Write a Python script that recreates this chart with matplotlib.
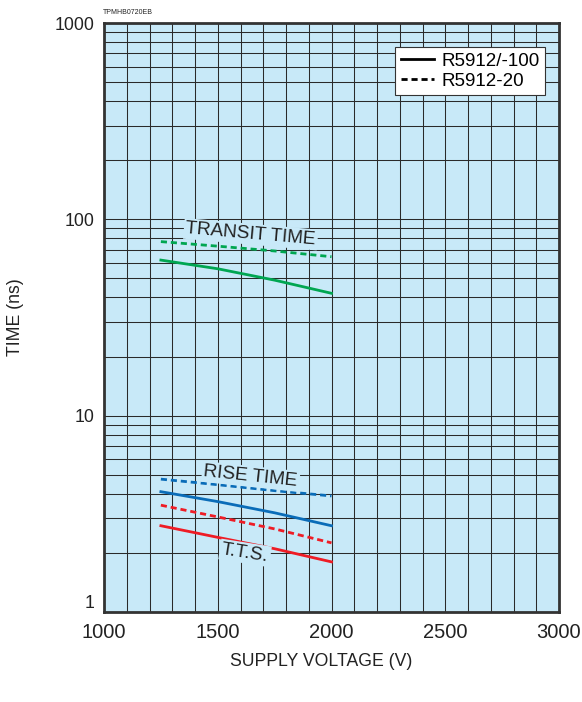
import matplotlib
matplotlib.use("Agg")
import matplotlib.pyplot as plt
from matplotlib.ticker import FixedLocator, LogLocator, NullFormatter

plt.rcParams['font.family'] = ['Liberation Sans', 'DejaVu Sans']

# ── Data ─────────────────────────────────────────────────────────────────────
volts = [1250, 1500, 1750, 2000]
transit_100 = [62, 56, 49, 42]
transit_20 = [77, 73, 69, 64.5]
rise_100 = [4.1, 3.65, 3.2, 2.75]
rise_20 = [4.75, 4.45, 4.15, 3.9]
tts_100 = [2.75, 2.4, 2.1, 1.8]
tts_20 = [3.5, 3.05, 2.65, 2.25]

x_ticks = [1000, 1500, 2000, 2500, 3000]
y_ticks = [1, 10, 100, 1000]

GREEN = "#00a651"
BLUE = "#0a6cb8"
RED = "#ee1c25"
BG = "#c8e9f8"
INK = "#222222"

fig = plt.figure(figsize=(5.82, 7.02), dpi=100)
ax = fig.add_axes([104 / 582, 1 - 612 / 702, 455 / 582, 589 / 702])
ax.set_facecolor(BG)

ax.set_yscale("log")
ax.set_xlim(1000, 3000)
ax.set_ylim(1, 1000)

# grid
ax.xaxis.set_minor_locator(FixedLocator(range(1000, 3001, 100)))
ax.yaxis.set_minor_locator(LogLocator(base=10, subs=range(2, 10)))
ax.yaxis.set_minor_formatter(NullFormatter())
ax.grid(True, which="both", color="#2a2a2a", lw=0.75)
ax.set_axisbelow(True)

ax.set_xticks(x_ticks)
ax.set_xticklabels([str(v) for v in x_ticks])
ax.set_yticks(y_ticks)
ax.set_yticklabels([str(v) for v in y_ticks])
ax.tick_params(which="both", length=0, colors=INK)
ax.tick_params(axis="x", labelsize=14.5, pad=8)
ax.tick_params(axis="y", labelsize=12.8, pad=7)
# the "1" label sits just above the first x label, as in the reference
ax.get_yticklabels()[0].set_va("bottom")

for sp in ax.spines.values():
    sp.set_linewidth(2)
    sp.set_color("#333333")

dash = (2.2, 1.4)
ax.plot(volts, transit_100, color=GREEN, lw=2)
ax.plot(volts, transit_20, color=GREEN, lw=2, dashes=dash)
ax.plot(volts, rise_100, color=BLUE, lw=2)
ax.plot(volts, rise_20, color=BLUE, lw=2, dashes=dash)
ax.plot(volts, tts_100, color=RED, lw=2)
ax.plot(volts, tts_20, color=RED, lw=2, dashes=dash)

lbl = dict(fontsize=13.7, color=INK, ha="center", va="center",
           bbox=dict(boxstyle="square,pad=0.1", fc=BG, ec="none"))
ax.text(1645, 84, "TRANSIT TIME", rotation=-5, **lbl)
ax.text(1645, 4.9, "RISE TIME", rotation=-6, **lbl)
ax.text(1620, 2.0, "T.T.S.", rotation=-9, **lbl)

# legend
h1, = ax.plot([], [], color="black", lw=2)
h2, = ax.plot([], [], color="black", lw=2, dashes=dash)
leg = ax.legend([h1, h2], ["R5912/-100", "R5912-20"], loc="upper right",
                bbox_to_anchor=(0.969, 0.959), fontsize=13.5, frameon=True,
                fancybox=False, framealpha=1, edgecolor="#333333",
                handlelength=1.8, handletextpad=0.35, borderpad=0.3,
                labelspacing=0.15, borderaxespad=0)
leg.get_frame().set_linewidth(0.8)

fig.text(16 / 582, 1 - 317 / 702, "TIME (ns)", fontsize=12.7, color=INK,
         rotation=90, ha="center", va="center")
fig.text(321 / 582, 1 - 662 / 702, "SUPPLY VOLTAGE (V)", fontsize=12.7,
         color=INK, ha="center", va="center")

fig.text(103 / 582, 1 - 13 / 702, "TPMHB0720EB", fontsize=5,
         color=INK, ha="left", va="center")

fig.savefig("out.png", dpi=100)
